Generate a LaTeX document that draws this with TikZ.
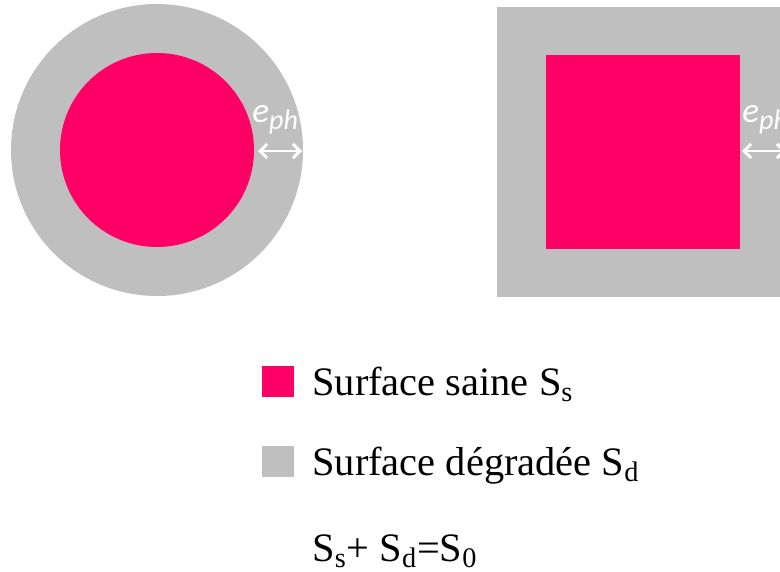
\documentclass[tikz,border=0pt]{standalone}
\usepackage{fontspec}
\setmainfont{Liberation Serif}
\newfontfamily\ephfont{Carlito}
\usetikzlibrary{arrows.meta}

\definecolor{sain}{HTML}{FF0066}
\definecolor{degrade}{HTML}{BFBFBF}

\newcommand{\ephtext}{e\raisebox{-4.5pt}{\fontsize{16}{17}\selectfont ph}}

\tikzset{
  ephlabel/.style={text=white,font=\ephfont\itshape\fontsize{20}{21}\selectfont,
    inner sep=0pt,anchor=base west},
  epharrow/.style={white,line width=1.7pt,{Straight Barb[length=4pt,width=8pt]}-{Straight Barb[length=4pt,width=8pt]}},
  legbox/.style={minimum size=18pt,inner sep=0pt,draw=none},
  legtext/.style={font=\fontsize{23}{26}\selectfont,inner sep=0pt,anchor=base west}
}

\begin{document}
\begin{tikzpicture}[x=0.02cm,y=-0.02cm]

\useasboundingbox (0,0) rectangle (780,571);
\clip (0,0) rectangle (780,571);

% Section circulaire
\fill[degrade] (157,150) circle[radius=146];
\fill[sain] (157,150) circle[radius=97];
\node[ephlabel] (eph1) at (252,122) {\ephtext};
\coordinate (a1) at (258,151);
\coordinate (b1) at (302,151);
\draw[epharrow] (a1) -- (b1);

% Section carree
\fill[degrade] (497,7) rectangle (789,297);
\fill[sain] (546,55) rectangle (740,249);
\node[ephlabel] (eph2) at (742,122) {\ephtext};
\coordinate (a2) at (742,151);
\coordinate (b2) at (786,151);
\draw[epharrow] (a2) -- (b2);

% Legende
\node[legbox,fill=sain] (sq1) at (278,381.5) {};
\node[legtext] (t1) at (312,395) {Surface saine S\textsubscript{s}};
\node[legbox,fill=degrade] (sq2) at (278,461.5) {};
\node[legtext] (t2) at (312,475) {Surface dégradée S\textsubscript{d}};
\node[legtext] (t3) at (312,561) {S\textsubscript{s}+ S\textsubscript{d}=S\textsubscript{0}};

\end{tikzpicture}
\end{document}
